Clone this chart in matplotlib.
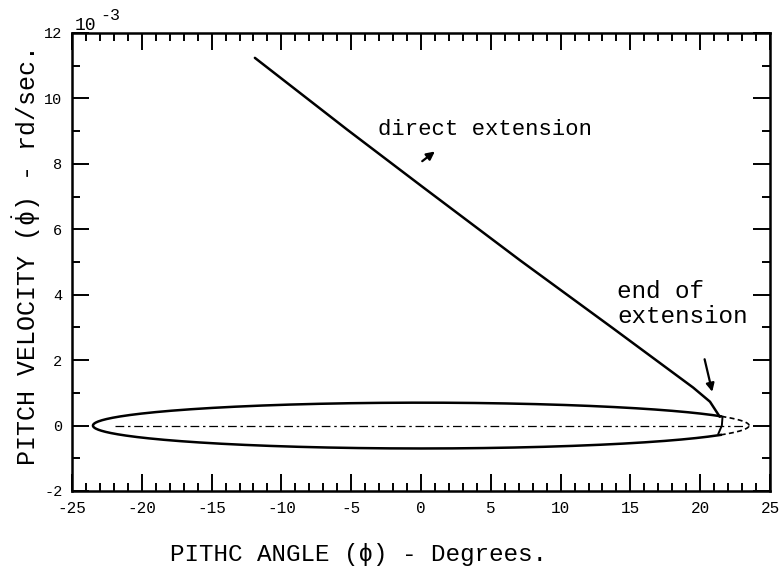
import numpy as np
import matplotlib
matplotlib.use('Agg')
import matplotlib.pyplot as plt
from matplotlib.ticker import MultipleLocator, FixedLocator

plt.rcParams['font.family'] = ['Liberation Mono', 'DejaVu Sans Mono']
plt.rcParams['mathtext.fontset'] = 'custom'
plt.rcParams['mathtext.rm'] = 'Liberation Mono'
plt.rcParams['mathtext.it'] = 'Liberation Mono'
plt.rcParams['axes.unicode_minus'] = False

# direct extension trajectory (degrees, 1e-3 rd/sec)
ext_x = [-11.9, -5.3, 0.1, 7.1, 13.7, 19.5, 20.7, 21.4]
ext_y = [11.24, 9.05, 7.30, 5.05, 2.99, 1.16, 0.73, 0.27]

# limit cycle ellipse
ell_a = 23.5
ell_b = 0.7
ell_cut = 21.5          # solid up to here, dashed beyond

# small inner arc at end of extension
end_x = [21.6, 21.55, 21.3]
end_y = [0.27, 0.0, -0.25]

xticks = [-25, -20, -15, -10, -5, 0, 5, 10, 15, 20, 25]
yticks = [-2, 0, 2, 4, 6, 8, 10, 12]

W, H = 783, 576
fig = plt.figure(figsize=(W/100, H/100), dpi=100)
ax = fig.add_axes([72/W, 1-491/H, 698/W, 458/H])

ax.plot(ext_x, ext_y, color='black', lw=1.8, solid_capstyle='round')

t = np.linspace(0, 2*np.pi, 721)
ex = ell_a*np.cos(t)
ey = ell_b*np.sin(t)
solid = np.where(ex <= ell_cut, ey, np.nan)
dashed = np.where(ex >= ell_cut - 0.05, ey, np.nan)
ax.plot(ex, solid, color='black', lw=1.8)
ax.plot(ex, dashed, color='black', lw=1.2, dashes=(3, 2))
ax.plot(end_x, end_y, color='black', lw=1.4)

ax.plot([-21.9, 23.2], [0, 0], color='black', lw=0.9, dashes=(7, 3, 2, 3))

ax.set_xlim(-25, 25)
ax.set_ylim(-2, 12)
ax.xaxis.set_major_locator(FixedLocator(xticks))
ax.yaxis.set_major_locator(FixedLocator(yticks))
ax.xaxis.set_minor_locator(MultipleLocator(1))
ax.yaxis.set_minor_locator(MultipleLocator(1))
ax.set_xticklabels([str(v) for v in xticks])
ax.set_yticklabels([str(v) for v in yticks])
ax.tick_params(which='both', direction='in', top=True, right=True, width=1.4)
ax.tick_params(axis='x', labelsize=11.5)
ax.tick_params(axis='y', labelsize=11)
ax.tick_params(which='major', length=12, pad=7)
ax.tick_params(which='minor', length=6)
for s in ax.spines.values():
    s.set_linewidth(1.8)

fig.text(170/W, 1-555/H, 'PITHC ANGLE (\u03d5) - Degrees.', fontsize=17.5,
         ha='left', va='center')
fig.text(27/W, 1-258/H, r'PITCH VELOCITY $(\dot{\phi})$ - rd/sec.', fontsize=18,
         rotation=90, ha='center', va='center')

fig.text(75/W, 1-25/H, '10', fontsize=13, va='center')
fig.text(100/W, 1-16/H, '-3', fontsize=12, va='center')

ax.text(-3.08, 9.04, 'direct extension', fontsize=16, va='center')
ax.annotate('', xy=(1.15, 8.43), xytext=(-0.07, 8.03),
            arrowprops=dict(arrowstyle='-|>', color='black', lw=1.6, mutation_scale=12))
ax.text(14.04, 4.09, 'end of', fontsize=17.5, va='center')
ax.text(14.04, 3.33, 'extension', fontsize=17.5, va='center')
ax.annotate('', xy=(20.91, 0.95), xytext=(20.27, 2.11),
            arrowprops=dict(arrowstyle='-|>', color='black', lw=1.6, mutation_scale=12))

fig.savefig('out.png', dpi=100)
